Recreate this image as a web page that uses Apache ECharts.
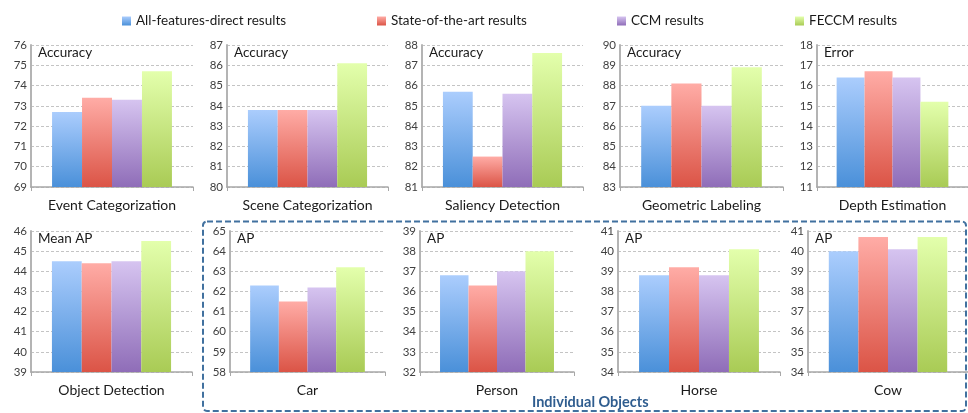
<!DOCTYPE html>
<html>
<head>
<meta charset="utf-8">
<script src="https://cdn.jsdelivr.net/npm/echarts@6/dist/echarts.min.js"></script>
<style>
  html, body { margin: 0; padding: 0; background: #ffffff; }
  #chart { width: 968px; height: 413px; }
</style>
</head>
<body>
<div id="chart"></div>
<script>
// ---- data ----
const categories = ['Event Categorization', 'Scene Categorization', 'Saliency Detection', 'Geometric Labeling', 'Depth Estimation',
                    'Object Detection', 'Car', 'Person', 'Horse', 'Cow'];
const metricLabels = ['Accuracy', 'Accuracy', 'Accuracy', 'Accuracy', 'Error', 'Mean AP', 'AP', 'AP', 'AP', 'AP'];
const seriesNames = ['All-features-direct results', 'State-of-the-art results', 'CCM results', 'FECCM results'];
const allFeaturesDirect = [72.7, 83.8, 85.7, 87.0, 16.4, 44.5, 62.3, 36.8, 38.8, 40.0];
const stateOfTheArt     = [73.4, 83.8, 82.5, 88.1, 16.7, 44.4, 61.5, 36.3, 39.2, 40.7];
const ccm               = [73.3, 83.8, 85.6, 87.0, 16.4, 44.5, 62.2, 37.0, 38.8, 40.1];
const feccm             = [74.7, 86.1, 87.6, 88.9, 15.2, 45.5, 63.2, 38.0, 40.1, 40.7];
const yMin = [69, 80, 81, 83, 11, 39, 58, 32, 34, 34];
const yMax = [76, 87, 88, 90, 18, 46, 65, 39, 41, 41];
const yInterval = 1;
const groupTitle = 'Individual Objects';

// ---- layout / style ----
const FONT = 'Lato, "Open Sans", sans-serif';
const gridBoxes = [
  [31, 45, 162, 142], [227, 45, 161, 142], [422, 45, 161, 142], [620, 45, 163, 142], [817, 45, 161, 142],
  [31, 231, 161, 141], [230, 231, 155, 141], [420, 231, 154, 141], [618, 231, 162, 141], [808, 231, 162, 141]
];
const gradColors = [
  ['#abcdfd', '#4a90d9'],
  ['#ffaca6', '#db5446'],
  ['#d6c4f0', '#8f6db8'],
  ['#e3ffac', '#a9cb55']
];
const legendLefts = [117, 372, 612, 790];

const seriesValues = [allFeaturesDirect, stateOfTheArt, ccm, feccm];

const grids = [], xAxes = [], yAxes = [], series = [], graphics = [];
gridBoxes.forEach((b, i) => {
  grids.push({ left: b[0], top: b[1], width: b[2], height: b[3] });
  xAxes.push({
    type: 'category', gridIndex: i, data: [categories[i]],
    axisLine: { show: true, lineStyle: { color: '#a8a8a8', width: 1.5 } },
    axisTick: { show: true, length: 4, lineStyle: { color: '#a8a8a8' } },
    axisLabel: { fontFamily: FONT, fontSize: 14, color: '#1a1a1a', margin: 11 },
    splitLine: { show: false }
  });
  yAxes.push({
    type: 'value', gridIndex: i, min: yMin[i], max: yMax[i], interval: yInterval,
    axisLine: { show: true, lineStyle: { color: '#b4b4b4', width: 2 } },
    axisTick: { show: false },
    axisLabel: { fontFamily: FONT, fontSize: 11.5, color: '#404040', margin: 4 },
    splitLine: { show: true, lineStyle: { color: '#c4c4c4', type: [3, 2], width: 1 } }
  });
  seriesValues.forEach((vals, s) => {
    series.push({
      type: 'bar', name: seriesNames[s], xAxisIndex: i, yAxisIndex: i,
      data: [vals[i]],
      barGap: '0%', barCategoryGap: '26%',
      itemStyle: {
        color: new echarts.graphic.LinearGradient(0, 0, 0, 1, [
          { offset: 0, color: gradColors[s][0] },
          { offset: 1, color: gradColors[s][1] }
        ])
      },
      emphasis: { disabled: true },
      silent: true,
      animation: false
    });
  });
  graphics.push({
    type: 'text', left: b[0] + 7, top: b[1] + 1,
    style: { text: metricLabels[i], font: '13.5px ' + FONT, fill: '#1a1a1a' }
  });
});

graphics.push({
  type: 'rect',
  shape: { x: 203, y: 221.5, width: 763, height: 189.5, r: 4 },
  style: { fill: 'none', stroke: '#41719f', lineWidth: 2, lineDash: [6, 3] },
  z: 10
});
graphics.push({
  type: 'text', left: 532, top: 395,
  style: { text: groupTitle, font: 'bold 14.5px ' + FONT, fill: '#2f5d8f' },
  z: 11
});

const legends = seriesNames.map((n, s) => ({
  data: [n], left: legendLefts[s], top: 9,
  icon: 'rect', itemWidth: 9, itemHeight: 9, itemGap: 4,
  textStyle: { fontFamily: FONT, fontSize: 13.5, color: '#1a1a1a' },
  selectedMode: false
}));

const chart = echarts.init(document.getElementById('chart'), null, { renderer: 'canvas' });
chart.setOption({
  backgroundColor: '#ffffff',
  animation: false,
  legend: legends,
  grid: grids,
  xAxis: xAxes,
  yAxis: yAxes,
  series: series,
  graphic: graphics
});
</script>
</body>
</html>
